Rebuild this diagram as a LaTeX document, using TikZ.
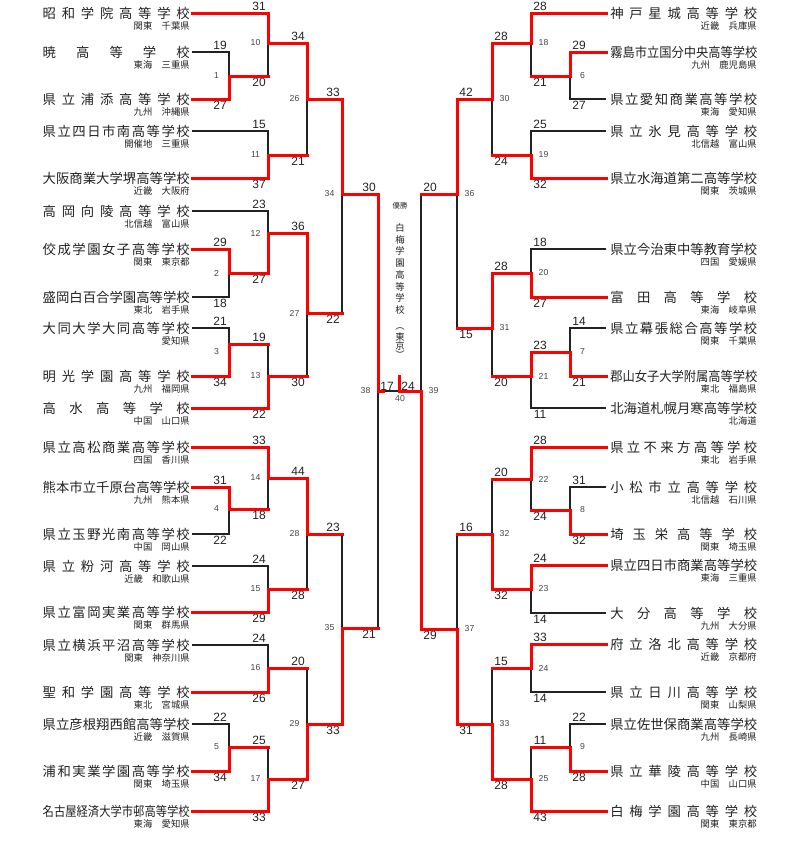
\documentclass[tikz,border=0pt]{standalone}
\usepackage{fontspec}
\usepackage{graphicx}
\setmainfont{Liberation Sans}
\newfontfamily\jp{Noto Sans CJK JP}
\definecolor{ink}{HTML}{222222}
\newlength\namew
\setlength\namew{110.25pt}
\newsavebox\namebox
\newcommand\regsp{\hspace{1em}}
% spread the characters of a school name over the name column
\def\spreadchars#1#2{#1\ifx\relax#2\else\hfill\expandafter\spreadchars\expandafter#2\fi}
% long names are squeezed instead
\newcommand\tname[1]{\sbox\namebox{#1}%
  \ifdim\wd\namebox>\namew \resizebox{\namew}{\height}{\usebox\namebox}%
  \else\makebox[\namew][s]{\expandafter\spreadchars#1\relax}\fi}

\begin{document}
\begin{tikzpicture}[x=0.75pt,y=-0.75pt,
  lose/.style={ink, line width=1pt},
  win/.style={red, line width=2.25pt, line cap=rect},
  lteam/.style={anchor=east, inner xsep=1.5pt, inner ysep=0pt, text=ink, font=\jp\fontsize{10}{12}\selectfont},
  rteam/.style={lteam, anchor=west, inner xsep=3pt},
  region/.style={anchor=east, inner sep=0pt, text=ink, font=\jp\fontsize{7}{8}\selectfont},
  score/.style={inner sep=0pt, text=ink, font=\fontsize{9}{10}\selectfont},
  gno/.style={inner sep=0pt, text=ink!85, font=\fontsize{6.5}{7}\selectfont},
  champ/.style={inner sep=0pt, text=ink, font=\jp\fontsize{7}{8}\selectfont}]
\useasboundingbox (0,0) rectangle (800,854);

% left half
\foreach \i/\y/\nm/\rg in {1/13/昭和学院高等学校/関東\regsp 千葉県,
  2/52/暁高等学校/東海\regsp 三重県, 3/99/県立浦添高等学校/九州\regsp 沖縄県,
  4/131/県立四日市南高等学校/開催地\regsp 三重県, 5/178/大阪商業大学堺高等学校/近畿\regsp 大阪府,
  6/211/高岡向陵高等学校/北信越\regsp 富山県, 7/249/佼成学園女子高等学校/関東\regsp 東京都,
  8/297/盛岡白百合学園高等学校/東北\regsp 岩手県, 9/328/大同大学大同高等学校/愛知県,
  10/376/明光学園高等学校/九州\regsp 福岡県, 11/408/高水高等学校/中国\regsp 山口県,
  12/447/県立高松商業高等学校/四国\regsp 香川県, 13/487/熊本市立千原台高等学校/九州\regsp 熊本県,
  14/534/県立玉野光南高等学校/中国\regsp 岡山県, 15/566/県立粉河高等学校/近畿\regsp 和歌山県,
  16/612/県立富岡実業高等学校/関東\regsp 群馬県, 17/645/県立横浜平沼高等学校/関東\regsp 神奈川県,
  18/692/聖和学園高等学校/東北\regsp 宮城県, 19/724/県立彦根翔西館高等学校/近畿\regsp 滋賀県,
  20/771/浦和実業学園高等学校/関東\regsp 埼玉県, 21/811/名古屋経済大学市邨高等学校/東海\regsp 愛知県}{
  \node[lteam] (L\i) at (192,\y) {\tname{\nm}};
  \node[region] (L\i r) at (190,\y+13) {\rg};
}
% right half
\foreach \i/\y/\nm/\rg in {1/13/神戸星城高等学校/近畿\regsp 兵庫県,
  2/52/霧島市立国分中央高等学校/九州\regsp 鹿児島県, 3/99/県立愛知商業高等学校/東海\regsp 愛知県,
  4/131/県立氷見高等学校/北信越\regsp 富山県, 5/178/県立水海道第二高等学校/関東\regsp 茨城県,
  6/249/県立今治東中等教育学校/四国\regsp 愛媛県, 7/297/富田高等学校/東海\regsp 岐阜県,
  8/328/県立幕張総合高等学校/関東\regsp 千葉県, 9/376/郡山女子大学附属高等学校/東北\regsp 福島県,
  10/408/北海道札幌月寒高等学校/北海道, 11/447/県立不来方高等学校/東北\regsp 岩手県,
  12/487/小松市立高等学校/北信越\regsp 石川県, 13/534/埼玉栄高等学校/関東\regsp 埼玉県,
  14/565/県立四日市商業高等学校/東海\regsp 三重県, 15/613/大分高等学校/九州\regsp 大分県,
  16/644/府立洛北高等学校/近畿\regsp 京都府, 17/692/県立日川高等学校/関東\regsp 山梨県,
  18/724/県立佐世保商業高等学校/九州\regsp 長崎県, 19/771/県立華陵高等学校/中国\regsp 山口県,
  20/811/白梅学園高等学校/関東\regsp 東京都}{
  \node[rteam] (R\i) at (606,\y) {\tname{\nm}};
  \node[region] (R\i r) at (757,\y+13) {\rg};
}

% games: number/x/y/number y/top y/bottom y/top score/bottom score/side
\foreach \g/\x/\y/\ny/\ta/\tb/\sa/\sb/\d in {
  1/229/76/76/52/99/19/27/-1, 2/229/273/273/249/297/29/18/-1,
  3/229/344/352/328/376/21/34/-1, 4/229/509/509/487/534/31/22/-1,
  5/229/747/747/724/771/22/34/-1, 10/268/43/43/13/76/31/20/-1,
  11/268/155/155/131/178/15/37/-1, 12/268/233/233/211/273/23/27/-1,
  13/268/376/376/344/408/19/22/-1, 14/268/478/478/447/509/33/18/-1,
  15/268/589/589/566/612/24/29/-1, 16/268/668/668/645/692/24/26/-1,
  17/268/779/779/747/811/25/33/-1, 26/307/99/99/43/155/34/21/-1,
  27/307/313/313/233/376/36/30/-1, 28/307/534/534/478/589/44/28/-1,
  29/307/724/724/668/779/20/27/-1, 34/342/194/194/99/313/33/22/-1,
  35/342/628/628/534/724/23/33/-1, 38/378/391/391/194/628/30/21/-1,
  6/570/76/76/52/99/29/27/1, 7/570/352/352/328/376/14/21/1,
  8/570/510/510/487/534/31/32/1, 9/570/747/747/724/771/22/28/1,
  18/531/43/43/13/76/28/21/1, 19/531/155/155/131/178/25/32/1,
  20/531/273/273/249/297/18/27/1, 21/531/376/376/352/408/23/11/1,
  22/531/479/479/447/510/28/24/1, 23/531/589/589/565/613/24/14/1,
  24/531/668/668/644/692/33/14/1, 25/531/779/779/747/811/11/43/1,
  30/492/99/99/43/155/28/24/1, 31/492/328/328/273/376/28/20/1,
  32/492/534/534/479/589/20/32/1, 33/492/724/724/668/779/15/28/1,
  36/457/194/194/99/328/42/15/1, 37/457/629/629/534/724/16/31/1,
  39/421/391/391/194/629/20/29/1}{
  \coordinate (g\g) at (\x,\y);
  \node[gno] (n\g) at (\x+12.5*\d,\ny) {\g};
  \node[score] (s\g a) at (\x+9*\d,\ta-7) {\sa};
  \node[score] (s\g b) at (\x+9*\d,\tb+6.5) {\sb};
}

% losing sides
\foreach \a/\b in {L2/g1, L8/g2, L9/g3, L14/g4, L19/g5, g1/g10, L4/g11, L6/g12,
  g3/g13, g4/g14, L15/g15, L17/g16, g5/g17, g11/g26, g13/g27, g15/g28, g16/g29,
  g27/g34, g28/g35, g35/g38, R3/g6, R8/g7, R12/g8, R18/g9, g6/g18, R4/g19,
  R6/g20, R10/g21, g8/g22, R15/g23, R17/g24, g9/g25, g19/g30, g21/g31,
  g22/g32, g24/g33, g31/g36, g32/g37, g36/g39}
  \draw[lose] (\a) -| (\b);
% winning sides
\foreach \a/\b in {L3/g1, L7/g2, L10/g3, L13/g4, L20/g5, L1/g10, L5/g11, g2/g12,
  L11/g13, L12/g14, L16/g15, L18/g16, L21/g17, g10/g26, g12/g27, g14/g28,
  g17/g29, g26/g34, g29/g35, g34/g38, R2/g6, R9/g7, R13/g8, R19/g9, R1/g18,
  R5/g19, R7/g20, g7/g21, R11/g22, R14/g23, R16/g24, R20/g25, g18/g30,
  g20/g31, g23/g32, g25/g33, g30/g36, g33/g37, g37/g39}
  \draw[win] (\a) -| (\b);
% every winner's line into the next round
\foreach \a/\b in {g1/g10, g3/g13, g4/g14, g5/g17, g11/g26, g13/g27, g15/g28,
  g16/g29, g27/g34, g28/g35, g35/g38, g6/g18, g8/g22, g9/g25, g19/g30,
  g21/g31, g22/g32, g24/g33, g31/g36, g32/g37, g36/g39}
  \draw[win] (\a) -- (\a -| \b);

% final
\coordinate (g40) at (399,391);
\coordinate (g38s) at (383,391);
\coordinate (cup) at (399,376);
\draw[lose] (g38) -- (g40);
\draw[win] (g38) -- (g38s);
\draw[win] (g39) -- (g40) -- (cup);
\node[score] (s40a) at (387,386.5) {17};
\node[score] (s40b) at (408,386.5) {24};
\node[gno] (n40) at (400,399) {40};

% champion
\node[champ, font=\jp\fontsize{5.5}{6}\selectfont] (title) at (400,206) {優勝};
\foreach \c [count=\k] in {白,梅,学,園,高,等,学,校}
  \node[champ] (c\k) at (400,216.3+11.7*\k) {\c};
\foreach \c/\yy [count=\k] in {︵/329,東/337,京/346,︶/355}
  \node[champ] (p\k) at (400,\yy) {\c};
\end{tikzpicture}
\end{document}
